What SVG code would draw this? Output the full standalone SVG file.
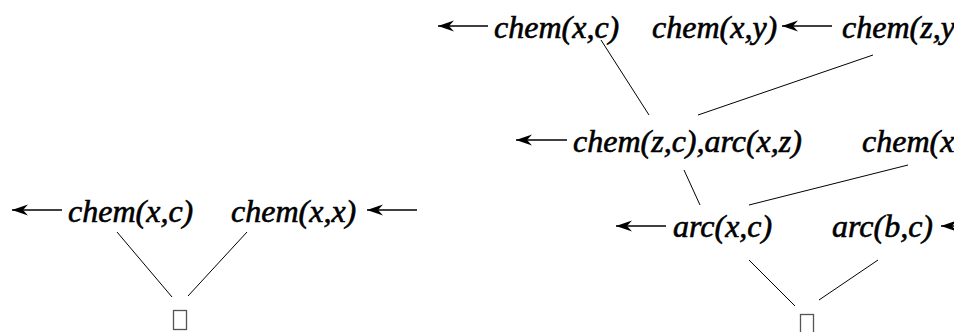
<svg xmlns="http://www.w3.org/2000/svg" width="954" height="332" viewBox="0 0 954 332">
<style>
text{font-family:"Liberation Serif","Times New Roman",serif;font-style:italic;font-size:32px;fill:#000;stroke:#000;stroke-width:0.6}
.ln{stroke:#000;stroke-width:1;fill:none}
.ar{stroke:#000;stroke-width:1.5;fill:none;marker-end:url(#ah)}
.box{fill:none;stroke:#555;stroke-width:1.3}
</style>
<defs>
<marker id="ah" markerWidth="18" markerHeight="12" refX="16" refY="6" orient="auto" markerUnits="userSpaceOnUse">
<path d="M0,0.5 L16,6 L0,11.5 L5,6 Z" fill="#000"/>
</marker>
</defs>
<rect width="954" height="332" fill="#fff"/>
<g id="left-chem-xc"><text x="68" y="222">chem(x,c)</text></g>
<g id="left-chem-xx"><text x="231" y="222">chem(x,x)</text></g>
<g id="left-box"><rect class="box" x="173.5" y="310.5" width="13" height="19"/></g>
<g id="top-chem-xc"><text x="494" y="38">chem(x,c)</text></g>
<g id="top-chem-xy"><text x="652" y="38">chem(x,y)</text></g>
<g id="top-chem-zy"><text x="842" y="38">chem(z,y</text></g>
<g id="mid-chem-zc-arc-xz"><text x="573" y="152">chem(z,c),arc(x,z)</text></g>
<g id="mid-chem-x"><text x="862" y="152">chem(x</text></g>
<g id="bot-arc-xc"><text x="673" y="237">arc(x,c)</text></g>
<g id="bot-arc-bc"><text x="832" y="237">arc(b,c)</text></g>
<g id="right-box"><rect class="box" x="800.5" y="314.5" width="13" height="19"/></g>
<g id="connectors">
<line class="ar" x1="62" y1="210" x2="12" y2="210"/>
<line class="ar" x1="417" y1="210" x2="367" y2="210"/>
<line class="ln" x1="117" y1="232" x2="172" y2="297"/>
<line class="ln" x1="247" y1="232" x2="188" y2="296"/>
<line class="ar" x1="488" y1="26" x2="438" y2="26"/>
<line class="ar" x1="832" y1="26" x2="782" y2="26"/>
<line class="ln" x1="601" y1="40" x2="649" y2="115"/>
<line class="ln" x1="873" y1="55" x2="698" y2="115"/>
<line class="ar" x1="567" y1="140" x2="516" y2="140"/>
<line class="ln" x1="684" y1="170" x2="700" y2="205"/>
<line class="ln" x1="908" y1="165" x2="749" y2="205"/>
<line class="ar" x1="666" y1="226" x2="616" y2="226"/>
<line class="ar" x1="990" y1="226" x2="941" y2="226"/>
<line class="ln" x1="749" y1="260" x2="795" y2="306"/>
<line class="ln" x1="878" y1="260" x2="819" y2="300"/>
</g>
</svg>
